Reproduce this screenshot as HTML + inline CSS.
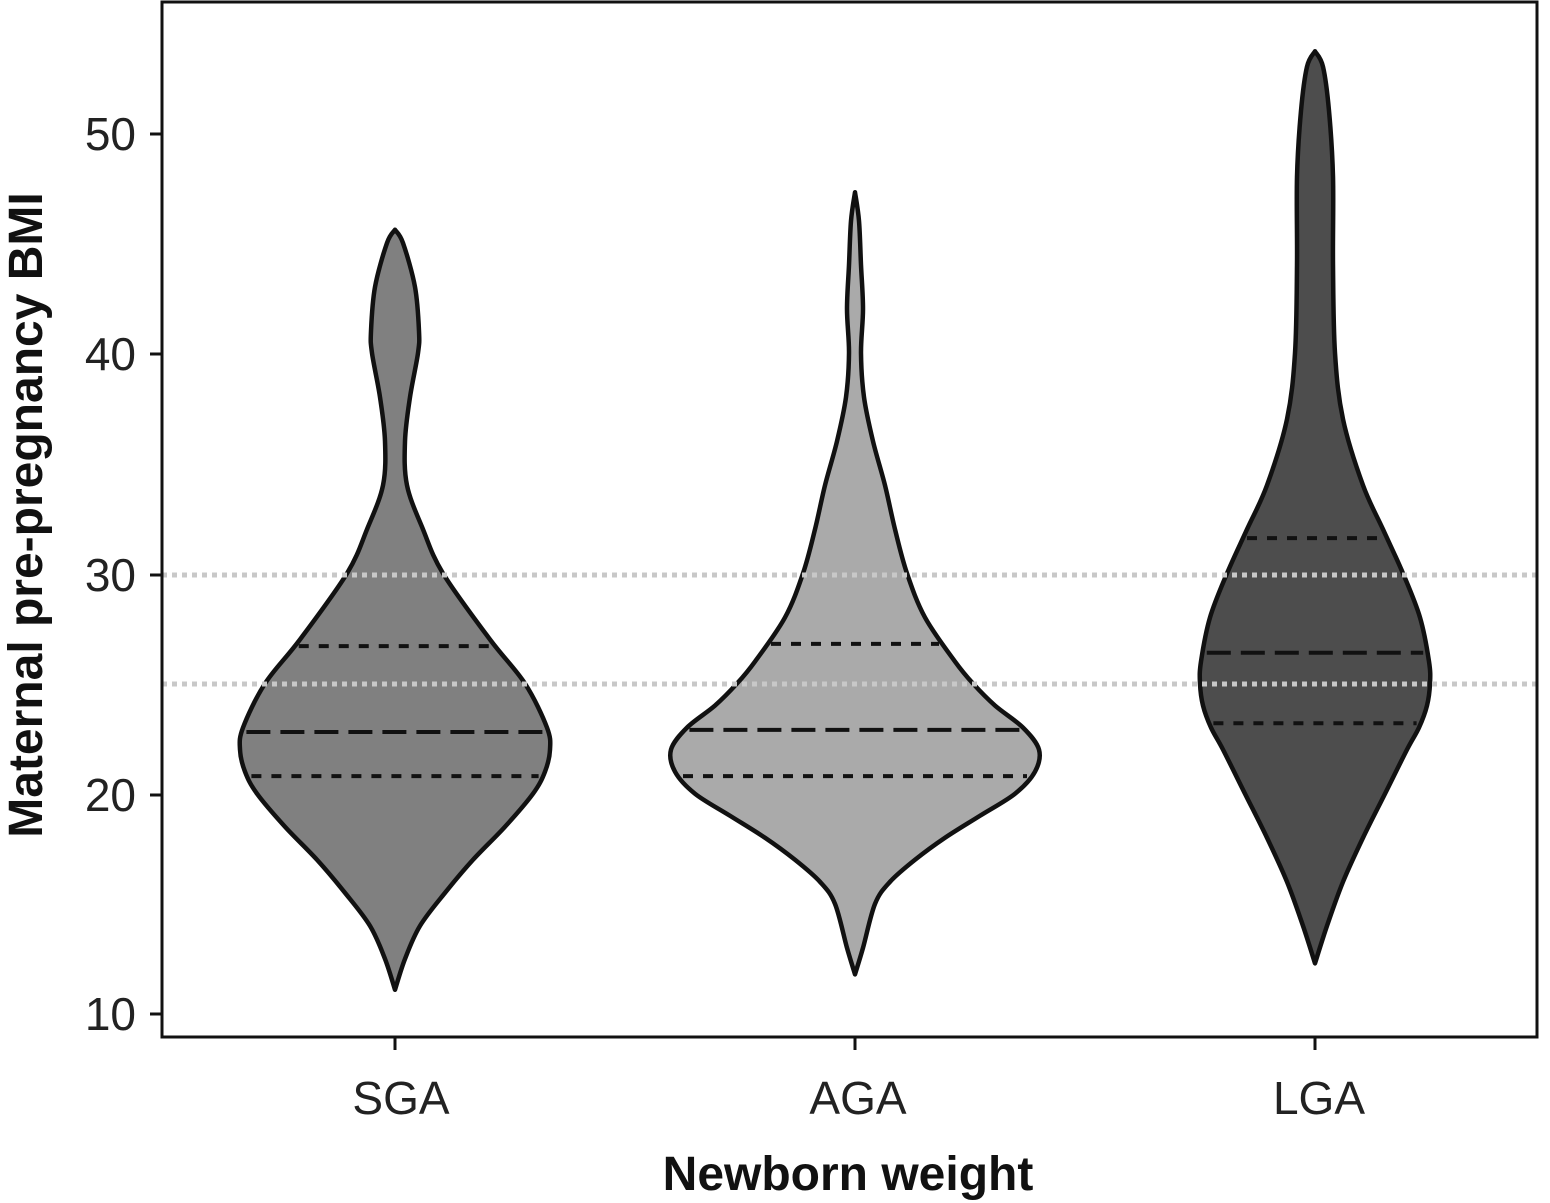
<!DOCTYPE html>
<html><head><meta charset="utf-8"><style>body{margin:0;background:#fff}svg{display:block}</style></head>
<body>
<svg id="s" width="1550" height="1203" xmlns="http://www.w3.org/2000/svg" font-family="Liberation Sans, sans-serif">
<rect width="1550" height="1203" fill="#fff"/>
<g id="v"></g>
<line x1="162" y1="575" x2="1537" y2="575" stroke="#c8c8c8" stroke-width="5" stroke-dasharray="5,5"/>
<line x1="162" y1="684" x2="1537" y2="684" stroke="#c8c8c8" stroke-width="5" stroke-dasharray="5,5"/>
<rect x="162" y="2" width="1375" height="1035" fill="none" stroke="#111" stroke-width="3"/>
<g stroke="#111" stroke-width="3">
<line x1="150" y1="134" x2="162" y2="134"/><line x1="150" y1="354" x2="162" y2="354"/><line x1="150" y1="575" x2="162" y2="575"/><line x1="150" y1="795" x2="162" y2="795"/><line x1="150" y1="1014" x2="162" y2="1014"/>
<line x1="395" y1="1037" x2="395" y2="1050"/><line x1="855" y1="1037" x2="855" y2="1050"/><line x1="1315" y1="1037" x2="1315" y2="1050"/>
</g>
<g font-size="46" fill="#222" text-anchor="end">
<text x="136" y="150">50</text><text x="136" y="370">40</text><text x="136" y="591">30</text><text x="136" y="811">20</text><text x="136" y="1030">10</text>
</g>
<g font-size="46" fill="#222" text-anchor="middle">
<text x="401" y="1114">SGA</text><text x="858" y="1114">AGA</text><text x="1319" y="1114">LGA</text>
</g>
<text x="848" y="1190" font-size="48" font-weight="bold" text-anchor="middle" fill="#111">Newborn weight</text>
<text transform="translate(42,515) rotate(-90)" font-size="48" font-weight="bold" text-anchor="middle" fill="#111">Maternal pre-pregnancy BMI</text>
</svg>
<script>
const Y=v=>1014-(v-10)*22.03;
const vs=[
 {cx:395,fill:'#808080',pts:[[45.6,0],[45,8],[43,20],[41,24],[40,23],[38,15],[36,10],[34,12],[32,28],[30,48],[27,95],[25,130],[23,152],[22,155],[21,150],[20,138],[18.5,110],[17,78],[15.5,50],[14,25],[12.5,10],[11.1,0]],q:[20.8,22.8,26.7]},
 {cx:855,fill:'#aaaaaa',pts:[[47.3,0],[46,4],[44,6],[42,8],[40,6],[38,9],[36,18],[34,30],[32,40],[30,52],[28,70],[26,100],[25,118],[24,140],[23,168],[22,184],[21,180],[20,160],[19,125],[18,90],[17,60],[16,35],[15,20],[13,8],[11.8,0]],q:[20.8,22.9,26.8]},
 {cx:1315,fill:'#4d4d4d',pts:[[53.7,0],[53,8],[51,14],[48,18],[44,18],[40,20],[37,28],[34,48],[32,68],[30,88],[28,105],[26,114],[25,115],[24,112],[23,104],[22,92],[20,70],[18,48],[16,28],[14,12],[12.3,0]],q:[23.2,26.4,31.6]}
];
function interp(pts,v){for(let i=0;i<pts.length-1;i++){const a=pts[i],b=pts[i+1];if(v<=a[0]&&v>=b[0]){const t=(a[0]-v)/(a[0]-b[0]);return a[1]+(b[1]-a[1])*t;}}return 0;}
function curve(P){let d='';for(let i=0;i<P.length-1;i++){const p0=P[Math.max(0,i-1)],p1=P[i],p2=P[i+1],p3=P[Math.min(P.length-1,i+2)];
 const c1=[p1[0]+(p2[0]-p0[0])/6,p1[1]+(p2[1]-p0[1])/6],c2=[p2[0]-(p3[0]-p1[0])/6,p2[1]-(p3[1]-p1[1])/6];
 d+=` C${c1[0]},${c1[1]} ${c2[0]},${c2[1]} ${p2[0]},${p2[1]}`;}return d;}
let h='';
for(const v of vs){
 const R=v.pts.map(p=>[v.cx+p[1],Y(p[0])]);
 const L=v.pts.slice().reverse().map(p=>[v.cx-p[1],Y(p[0])]);
 const d=`M${R[0][0]},${R[0][1]}`+curve(R)+` L${L[0][0]},${L[0][1]}`+curve(L)+'Z';
 h+=`<path d="${d}" fill="${v.fill}" stroke="#111" stroke-width="4.5" stroke-linejoin="round"/>`;
 v.q.forEach((q,i)=>{const w=interp(v.pts,q)-4;const y=Y(q);
  h+=`<line x1="${v.cx-w}" y1="${y}" x2="${v.cx+w}" y2="${y}" stroke="#111" stroke-width="4" stroke-dasharray="${i==1?'24,10':'10,10'}"/>`;});
}
document.getElementById('v').innerHTML=h;
</script>
</body></html>
